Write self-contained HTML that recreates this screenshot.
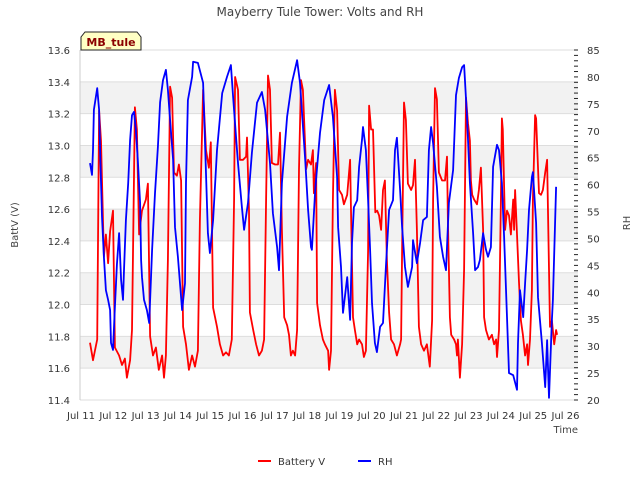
<!DOCTYPE html>
<html><head><meta charset="utf-8"><style>
body{margin:0;background:#fff;}
svg{display:block;font-family:"DejaVu Sans","Liberation Sans",sans-serif;}
</style></head><body>
<svg id="chart" width="640" height="480" viewBox="0 0 640 480">
<text x="320" y="16" text-anchor="middle" font-size="12" fill="#444">Mayberry Tule Tower: Volts and RH</text>
<g id="bands"></g>
<g id="axes"></g>
<g id="series"></g>
<path d="M81,50 L81,37 L85,32 L137,32 L141,37 L141,50 Z" fill="#ffffc4" stroke="#222" stroke-width="1"/>
<text x="111" y="46" text-anchor="middle" font-size="11" font-weight="bold" fill="#8b0000">MB_tule</text>
<text x="18" y="225" text-anchor="middle" font-size="10" fill="#444" transform="rotate(-90 18 225)">BattV (V)</text>
<text x="630" y="223" text-anchor="middle" font-size="10" fill="#444" transform="rotate(-90 630 223)">RH</text>
<text x="578" y="433" text-anchor="end" font-size="10" fill="#444">Time</text>
<g>
<line x1="258" y1="461" x2="271" y2="461" stroke="#f00" stroke-width="2"/>
<text x="278" y="465" font-size="10" fill="#333">Battery V</text>
<line x1="358" y1="461" x2="371" y2="461" stroke="#00f" stroke-width="2"/>
<text x="378" y="465" font-size="10" fill="#333">RH</text>
</g>
</svg>
<script>
const xTickLabels=["Jul 11","Jul 12","Jul 13","Jul 14","Jul 15","Jul 16","Jul 17","Jul 18","Jul 19","Jul 20","Jul 21","Jul 22","Jul 23","Jul 24","Jul 25","Jul 26"];
const vTicks=[11.4,11.6,11.8,12.0,12.2,12.4,12.6,12.8,13.0,13.2,13.4,13.6];
const rhTicks=[20,25,30,35,40,45,50,55,60,65,70,75,80,85];
const battT=[0.28,0.37,0.50,0.56,0.62,0.71,0.77,0.84,0.90,0.99,1.05,1.18,1.27,1.36,1.42,1.52,1.58,1.67,1.73,1.80,1.89,2.01,2.07,2.14,2.23,2.32,2.41,2.51,2.57,2.63,2.69,2.76,2.82,2.88,2.97,3.03,3.10,3.16,3.25,3.34,3.44,3.53,3.62,3.68,3.78,3.87,3.96,4.02,4.09,4.21,4.30,4.40,4.49,4.58,4.67,4.74,4.77,4.86,4.92,5.02,5.11,5.14,5.20,5.23,5.33,5.42,5.51,5.60,5.67,5.73,5.79,5.85,5.91,6.01,6.10,6.16,6.22,6.29,6.38,6.44,6.50,6.56,6.63,6.69,6.75,6.81,6.87,6.97,7.03,7.12,7.18,7.21,7.28,7.31,7.40,7.49,7.55,7.65,7.68,7.74,7.80,7.86,7.93,7.99,8.08,8.14,8.24,8.33,8.36,8.42,8.48,8.55,8.61,8.70,8.76,8.82,8.89,8.92,8.98,9.04,9.11,9.17,9.23,9.29,9.35,9.41,9.47,9.54,9.60,9.69,9.78,9.88,9.91,9.94,10.00,10.06,10.12,10.22,10.28,10.34,10.40,10.46,10.53,10.62,10.71,10.80,10.87,10.90,10.96,11.02,11.08,11.18,11.27,11.33,11.36,11.42,11.46,11.55,11.61,11.64,11.67,11.73,11.80,11.86,11.92,11.98,12.04,12.07,12.11,12.17,12.26,12.32,12.38,12.45,12.48,12.54,12.63,12.72,12.79,12.85,12.88,12.94,13.00,13.03,13.06,13.13,13.19,13.25,13.31,13.38,13.41,13.44,13.50,13.56,13.62,13.68,13.75,13.81,13.84,13.90,13.96,13.99,14.06,14.09,14.18,14.24,14.30,14.37,14.43,14.49,14.52,14.58,14.65,14.71,14.74];
const battV=[11.76,11.65,11.78,13.22,13.03,12.30,12.44,12.26,12.46,12.59,11.73,11.68,11.62,11.66,11.54,11.65,11.84,13.24,13.10,12.44,12.59,12.66,12.76,11.80,11.68,11.73,11.59,11.68,11.54,11.68,12.28,13.37,13.30,12.83,12.81,12.88,12.78,11.86,11.75,11.59,11.68,11.61,11.71,12.53,13.35,12.97,12.86,13.02,11.98,11.86,11.75,11.68,11.70,11.68,11.78,12.66,13.43,13.35,12.91,12.91,12.93,13.05,12.59,11.95,11.84,11.75,11.68,11.71,11.78,12.66,13.44,13.35,12.89,12.88,12.88,13.08,12.47,11.92,11.87,11.81,11.68,11.71,11.68,11.84,12.85,13.41,13.35,12.85,12.91,12.88,12.97,12.70,12.89,12.01,11.87,11.78,11.75,11.71,11.59,11.71,12.66,13.35,13.22,12.72,12.69,12.63,12.69,12.91,12.59,11.92,11.84,11.75,11.78,11.75,11.67,11.71,12.34,13.25,13.10,13.10,12.58,12.59,12.56,12.47,12.72,12.78,12.28,11.95,11.78,11.75,11.68,11.75,11.78,12.34,13.27,13.16,12.76,12.72,12.75,12.91,12.47,11.86,11.75,11.71,11.75,11.61,11.90,12.66,13.36,13.29,12.83,12.78,12.78,12.93,12.53,11.92,11.81,11.78,11.75,11.68,11.78,11.54,11.75,12.22,13.30,13.14,13.03,12.78,12.69,12.66,12.63,12.72,12.86,12.47,11.92,11.84,11.78,11.81,11.75,11.78,11.67,11.84,12.66,13.17,13.10,12.47,12.59,12.56,12.44,12.66,12.47,12.72,12.44,12.14,11.90,11.81,11.68,11.75,11.62,11.78,12.09,12.66,13.19,13.17,12.70,12.69,12.72,12.83,12.91,12.22,11.86,11.90,11.75,11.84,11.81];
const rhT=[0.28,0.34,0.37,0.40,0.50,0.56,0.59,0.65,0.71,0.77,0.84,0.90,0.93,0.99,1.05,1.11,1.18,1.24,1.30,1.33,1.39,1.46,1.52,1.58,1.64,1.70,1.76,1.83,1.86,1.89,1.95,2.04,2.11,2.20,2.29,2.38,2.45,2.54,2.63,2.69,2.76,2.85,2.91,3.00,3.13,3.22,3.25,3.31,3.44,3.47,3.62,3.78,3.93,3.99,4.09,4.21,4.37,4.52,4.64,4.71,4.83,4.86,4.98,5.05,5.17,5.29,5.45,5.60,5.70,5.85,5.94,6.07,6.13,6.22,6.38,6.53,6.69,6.78,6.94,7.03,7.12,7.15,7.25,7.40,7.53,7.68,7.80,7.93,7.96,8.05,8.11,8.24,8.33,8.39,8.45,8.55,8.61,8.70,8.73,8.82,8.89,8.95,9.01,9.10,9.16,9.26,9.35,9.44,9.54,9.66,9.72,9.78,9.88,9.94,10.03,10.12,10.25,10.28,10.40,10.50,10.59,10.71,10.77,10.84,10.90,11.02,11.11,11.21,11.30,11.39,11.52,11.61,11.70,11.80,11.86,11.95,12.04,12.14,12.20,12.29,12.35,12.45,12.54,12.60,12.69,12.76,12.88,12.94,13.03,13.10,13.19,13.25,13.38,13.50,13.53,13.59,13.69,13.75,13.81,13.87,13.96,13.99,14.09,14.15,14.27,14.37,14.43,14.49,14.58,14.61,14.71];
const rhV=[64.0,61.8,66.4,73.9,77.9,73.9,66.4,54.0,46.6,40.4,38.6,36.7,30.6,29.3,37.3,45.1,51.0,42.3,38.6,44.1,53.4,60.3,68.3,72.9,73.5,70.1,64.6,56.6,46.0,42.8,38.6,36.7,34.3,47.9,58.4,67.0,75.3,79.4,81.3,77.6,72.0,64.6,52.1,46.6,36.7,41.7,60.3,75.7,80.0,82.8,82.6,78.9,51.0,47.3,53.4,66.4,77.0,80.0,82.2,76.3,66.4,64.0,55.8,51.6,56.6,65.9,75.2,77.2,73.9,64.0,54.7,48.4,44.1,60.3,72.6,78.9,83.1,78.9,64.6,55.3,48.4,47.9,59.0,69.6,75.7,78.5,72.6,61.4,52.1,44.7,36.2,42.8,34.9,49.2,55.8,57.1,63.3,68.3,70.7,66.4,57.1,47.9,38.0,30.6,28.9,33.6,34.3,44.7,55.3,57.1,66.4,68.7,59.0,52.1,44.7,41.0,44.7,49.7,45.4,49.2,53.4,54.0,66.4,70.7,67.7,59.6,50.3,46.6,44.1,56.6,62.7,76.6,79.8,81.8,82.2,72.6,60.3,51.0,44.1,44.7,46.0,51.0,47.9,46.6,48.4,63.3,67.4,66.4,60.3,50.3,35.4,25.0,24.6,21.9,30.6,40.4,35.4,41.7,47.9,55.3,61.4,62.3,52.9,39.1,30.6,22.4,31.1,20.4,34.9,38.6,59.6];

const NS="http://www.w3.org/2000/svg";
const X0=81,DAY=32.3,PL=80,PR=578,PT=50,PB=400;
function xs(t){return X0+t*DAY;}
function yv(v){return PB-(v-11.4)/2.2*(PB-PT);}
function yr(r){return PB-(r-20)/65*(PB-PT);}
function mk(tag,attrs,parent){const e=document.createElementNS(NS,tag);for(const k in attrs)e.setAttribute(k,attrs[k]);parent.appendChild(e);return e;}
const bands=document.getElementById('bands'),axes=document.getElementById('axes'),series=document.getElementById('series');
for(let i=0;i<vTicks.length-1;i++){
  if(i%2===1){
    const r=mk('rect',{x:PL,y:yv(vTicks[i+1]),width:PR-PL,height:yv(vTicks[i])-yv(vTicks[i+1]),fill:'#f2f2f2'},bands);
    
    
  }
}
vTicks.forEach(v=>{
  const y=yv(v);
  const g=mk('line',{x1:PL,x2:PR,y1:y,y2:y,stroke:'#ddd','stroke-width':1},bands);
  
  
  const t=mk('text',{x:PL-10,y:y+4,'text-anchor':'end','font-size':10,fill:'#333'},axes);
  t.textContent=v.toFixed(1);
  
  
});
const la=mk('line',{x1:PL,x2:PL,y1:PT,y2:PB,stroke:'#ccc'},axes);


rhTicks.forEach(r=>{
  const y=yr(r);
  const t=mk('text',{x:587,y:y+4,'font-size':10,fill:'#333'},axes);
  t.textContent=r;
  
  
});
for(let r=20;r<=85;r++){
  const y=yr(r);
  const tk=mk('line',{x1:PR-4,x2:PR,y1:y,y2:y,stroke:'#222'},axes);
  
  
}
xTickLabels.forEach((lab,i)=>{
  const x=xs(i);
  const t=mk('text',{x:x,y:419,'text-anchor':'middle','font-size':10,fill:'#333'},axes);
  t.textContent=lab;
  
  
});
function path(T,V,yf,color,name){
  let d='';T.forEach((t,i)=>{d+=(i?'L':'M')+xs(t).toFixed(1)+','+yf(V[i]).toFixed(1);});
  const p=mk('path',{d:d,fill:'none',stroke:color,'stroke-width':1.8,'stroke-linejoin':'round'},series);
  
  
}
path(battT,battV,yv,'#ff0000','battery-v-line');
path(rhT,rhV,yr,'#0000ff','rh-line');
</script>
</body></html>
